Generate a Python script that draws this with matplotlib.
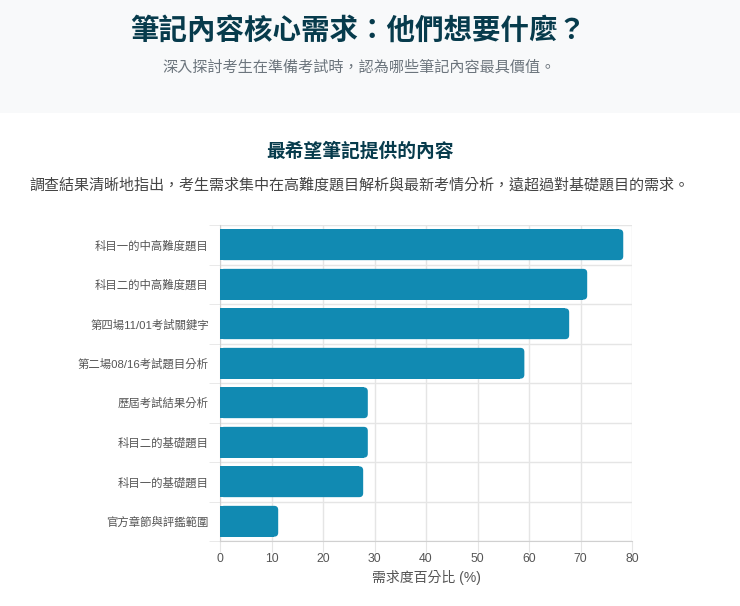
import matplotlib
matplotlib.use("Agg")
import matplotlib.pyplot as plt
from matplotlib.patches import Rectangle, FancyBboxPatch
import numpy as np

plt.rcParams['font.family'] = ['Noto Sans CJK TC', 'DejaVu Sans']
police_axe = ['Liberation Sans', 'Noto Sans CJK TC', 'DejaVu Sans']

# données
categories = ['科目一的中高難度題目', '科目二的中高難度題目', '第四場11/01考試關鍵字',
              '第二場08/16考試題目分析', '歷屆考試結果分析', '科目二的基礎題目',
              '科目一的基礎題目', '官方章節與評鑑範圍']
valeurs = [78.3, 71.3, 67.8, 59.1, 28.7, 28.7, 27.8, 11.3]
xticks = [0, 10, 20, 30, 40, 50, 60, 70, 80]

titre = '筆記內容核心需求：他們想要什麼？'
sous_titre = '深入探討考生在準備考試時，認為哪些筆記內容最具價值。'
titre_carte = '最希望筆記提供的內容'
description = '調查結果清晰地指出，考生需求集中在高難度題目解析與最新考情分析，遠超過對基礎題目的需求。'
xlabel = '需求度百分比 (%)'

c_barre = '#118ab2'
c_fonce = '#073b4c'
c_grille = '#e5e5e5'

W, H = 740, 606
fig = plt.figure(figsize=(W/100, H/100), dpi=100)
fig.patch.set_facecolor('white')

# bandeau gris du haut
fig.patches.append(Rectangle((0, 1-113/H), 1, 113/H, transform=fig.transFigure,
                             facecolor='#f8f9fa', edgecolor='none', zorder=0))

fig.text(0.484, 1-31/H, titre, ha='center', va='center', fontsize=20.5,
         fontweight='bold', color=c_fonce)
fig.text(0.485, 1-67/H, sous_titre, ha='center', va='center', fontsize=10.9,
         color='#6c757d')
fig.text(0.487, 1-151/H, titre_carte, ha='center', va='center', fontsize=13.5,
         fontweight='bold', color=c_fonce)
fig.text(0.486, 1-185/H, description, ha='center', va='center', fontsize=10.85,
         color='#444444')

ax_l, ax_r, ax_t, ax_b = 220, 632, 225, 541
ax = fig.add_axes([ax_l/W, 1-ax_b/H, (ax_r-ax_l)/W, (ax_b-ax_t)/H])

n = len(categories)
y = np.arange(n)
ax.set_xlim(0, 80)
ax.set_ylim(n-0.5, -0.5)

# barres arrondies côté droit
px_x = (ax_r-ax_l)/80.0
px_y = (ax_b-ax_t)/n
r = 4.0/px_x
hauteur = 0.78
for yi, v in zip(y, valeurs):
    ax.add_patch(Rectangle((0, yi-hauteur/2), v-r, hauteur, facecolor=c_barre,
                           edgecolor='none', zorder=3))
    ax.add_patch(FancyBboxPatch((0, yi-hauteur/2), v, hauteur,
                                boxstyle='round,pad=0,rounding_size=%f' % r,
                                mutation_aspect=px_x/px_y,
                                facecolor=c_barre, edgecolor='none', zorder=3))

ax.set_xticks(xticks)
ax.set_yticks(y)
ax.set_yticklabels(categories, family=police_axe)
ax.set_xticklabels([str(t) for t in xticks], family=police_axe)
ax.set_yticks(np.arange(-0.5, n, 1), minor=True)
ax.tick_params(axis='y', which='major', length=0, pad=8, labelsize=8.2, labelcolor='#555555')
ax.tick_params(axis='y', which='minor', length=8, color=c_grille)
ax.tick_params(axis='x', which='major', length=8, color=c_grille, pad=1,
               labelsize=8.8, labelcolor='#555555')
ax.grid(True, axis='x', which='major', color=c_grille, lw=1, zorder=0)
ax.grid(True, axis='y', which='minor', color=c_grille, lw=1, zorder=0)
ax.set_axisbelow(True)
for s in ['top', 'right']:
    ax.spines[s].set_visible(False)
for s in ['left', 'bottom']:
    ax.spines[s].set_color('#d0d0d0')

ax.set_xlabel(xlabel, fontsize=10, color='#555555', labelpad=3, family=police_axe)

fig.savefig('out.png', dpi=100, facecolor='white')
